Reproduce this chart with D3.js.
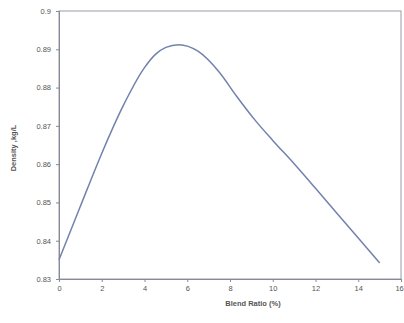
<!DOCTYPE html>
<html><head><meta charset="utf-8">
<script src="https://cdn.jsdelivr.net/npm/d3@7"></script>
<style>body{margin:0;background:#fff}svg{display:block}</style>
</head><body>
<script>
const blendRatio = [0, 1, 2, 3, 4, 4.5, 5, 5.6, 6.5, 7.5, 8.3, 9.2, 10, 11, 12, 13, 14, 15];
const density = [0.835, 0.849, 0.8628, 0.8752, 0.8852, 0.8886, 0.8905, 0.8912, 0.8895, 0.8840, 0.8778, 0.8713, 0.8662, 0.8601, 0.8537, 0.8472, 0.8407, 0.8342];
const xTicks = [0, 2, 4, 6, 8, 10, 12, 14, 16];
const yTicks = [0.83, 0.84, 0.85, 0.86, 0.87, 0.88, 0.89, 0.9];
const xTitle = "Blend Ratio (%)";
const yTitle = "Density ,kg/L";

const W = 404, H = 323;
const m = {l: 59, r: 3, t: 11, b: 44};
const svg = d3.select("body").append("svg").attr("width", W).attr("height", H);
const x = d3.scaleLinear().domain([0, 16]).range([m.l, W - m.r]);
const y = d3.scaleLinear().domain([0.83, 0.9]).range([H - m.b, m.t]);
const axisCol = "#8a8a96", textCol = "#555";

svg.append("rect").attr("x", m.l).attr("y", m.t)
  .attr("width", W - m.r - m.l).attr("height", H - m.b - m.t)
  .attr("fill", "none").attr("stroke", "#9a9aa8").attr("stroke-width", 1);

const xa = svg.append("g").attr("transform", `translate(0,${H - m.b})`)
  .call(d3.axisBottom(x).tickValues(xTicks).tickSize(3).tickPadding(4).tickFormat(d3.format("d")));
const ya = svg.append("g").attr("transform", `translate(${m.l},0)`)
  .call(d3.axisLeft(y).tickValues(yTicks).tickSize(3).tickPadding(5).tickFormat(d => d === 0.9 ? "0.9" : d3.format(".2f")(d)));
[xa, ya].forEach(a => {
  a.selectAll("path,line").attr("stroke", axisCol);
  a.selectAll("text").attr("fill", textCol).attr("font-family", "Liberation Sans, Arial, sans-serif").attr("font-size", 7.5);
});
// keep the last x tick label inside the window
xa.selectAll(".tick text").filter(d => d === 16).attr("text-anchor", "end").attr("dx", "0.3em");

const line = d3.line().x((d, i) => x(blendRatio[i])).y(d => y(d)).curve(d3.curveMonotoneX);
svg.append("path").datum(density).attr("d", line)
  .attr("fill", "none").attr("stroke", "#7282ad").attr("stroke-width", 1.5);

svg.append("text").attr("x", 253).attr("y", 306).attr("text-anchor", "middle")
  .attr("font-family", "Liberation Sans, Arial, sans-serif").attr("font-size", 7.5).attr("font-weight", "bold")
  .attr("fill", textCol).text(xTitle);
svg.append("text").attr("transform", "translate(16,148) rotate(-90)").attr("text-anchor", "middle")
  .attr("font-family", "Liberation Sans, Arial, sans-serif").attr("font-size", 7.5).attr("font-weight", "bold")
  .attr("fill", textCol).text(yTitle);
</script>
</body></html>
